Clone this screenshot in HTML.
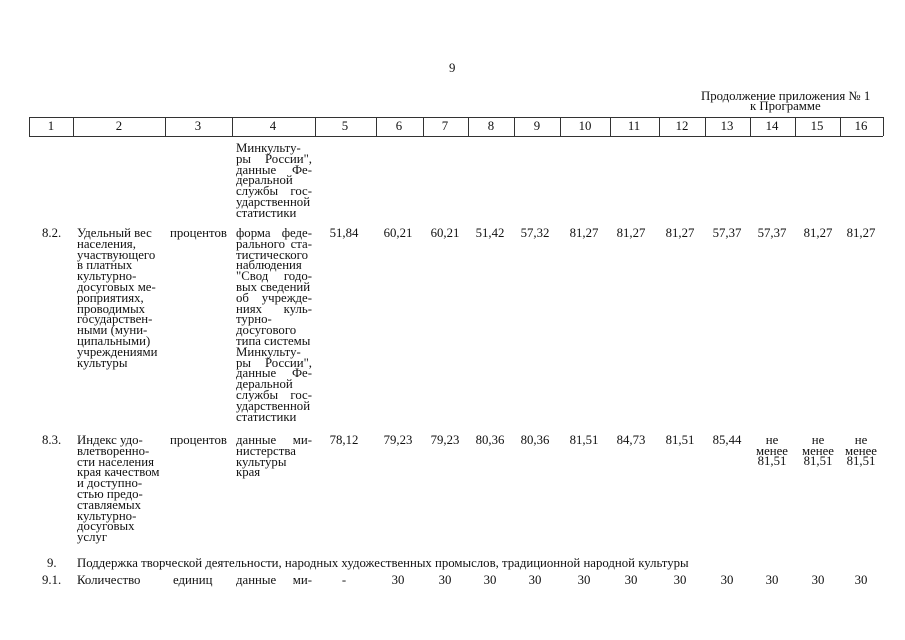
<!DOCTYPE html>
<html><head><meta charset="utf-8"><style>
body{margin:0;background:#fff;}
#p{position:relative;width:905px;height:640px;overflow:hidden;font-family:"Liberation Serif","DejaVu Serif",serif;font-size:12.8px;color:#111;}
.a{position:absolute;white-space:nowrap;line-height:11px;}
.b{position:absolute;line-height:10.8px;}
.b div{white-space:nowrap;}
.j{text-align:justify;text-align-last:justify;}
.c{position:absolute;width:50px;text-align:center;line-height:10.8px;}
.v{position:absolute;top:117px;height:19px;border-left:1px solid #333;}
.h{position:absolute;top:121px;width:50px;text-align:center;line-height:11px;}
</style></head><body><div id="p">
<div class="a" style="left:449px;top:63px;">9</div>
<div class="a" style="left:701px;top:91px;">Продолжение приложения № 1</div>
<div class="a" style="left:750px;top:101px;">к Программе</div>
<div style="position:absolute;left:29px;top:117px;width:854px;height:18px;border-top:1px solid #333;border-bottom:1px solid #333;"></div>
<div class="v" style="left:29px"></div><div class="v" style="left:73px"></div><div class="v" style="left:165px"></div><div class="v" style="left:232px"></div><div class="v" style="left:315px"></div><div class="v" style="left:376px"></div><div class="v" style="left:423px"></div><div class="v" style="left:468px"></div><div class="v" style="left:514px"></div><div class="v" style="left:560px"></div><div class="v" style="left:610px"></div><div class="v" style="left:659px"></div><div class="v" style="left:705px"></div><div class="v" style="left:750px"></div><div class="v" style="left:795px"></div><div class="v" style="left:840px"></div><div class="v" style="left:883px"></div>
<div class="h" style="left:26px">1</div><div class="h" style="left:94px">2</div><div class="h" style="left:173px">3</div><div class="h" style="left:248px">4</div><div class="h" style="left:320px">5</div><div class="h" style="left:374px">6</div><div class="h" style="left:420px">7</div><div class="h" style="left:466px">8</div><div class="h" style="left:512px">9</div><div class="h" style="left:560px">10</div><div class="h" style="left:609px">11</div><div class="h" style="left:657px">12</div><div class="h" style="left:702px">13</div><div class="h" style="left:747px">14</div><div class="h" style="left:792px">15</div><div class="h" style="left:836px">16</div>

<div class="b" style="left:236px;top:143px;width:76px;">
<div>Минкульту-</div><div class="j">ры России",</div><div class="j">данные Фе-</div><div>деральной</div><div class="j">службы гос-</div><div>ударственной</div><div>статистики</div></div>

<div class="a" style="left:42px;top:228px;">8.2.</div>
<div class="b" style="left:77px;top:228px;">
<div>Удельный вес</div><div>населения,</div><div>участвующего</div><div>в платных</div><div>культурно-</div><div>досуговых ме-</div><div>роприятиях,</div><div>проводимых</div><div>государствен-</div><div>ными (муни-</div><div>ципальными)</div><div>учреждениями</div><div>культуры</div></div>
<div class="a" style="left:170px;top:228px;">процентов</div>
<div class="b" style="left:236px;top:228px;width:76px;">
<div class="j">форма феде-</div><div class="j">рального ста-</div><div>тистического</div><div>наблюдения</div><div class="j">"Свод годо-</div><div>вых сведений</div><div class="j">об учрежде-</div><div class="j">ниях куль-</div><div>турно-</div><div>досугового</div><div>типа системы</div><div>Минкульту-</div><div class="j">ры России",</div><div class="j">данные Фе-</div><div>деральной</div><div class="j">службы гос-</div><div>ударственной</div><div>статистики</div></div>
<div class="c" style="left:319px;top:228px">51,84</div><div class="c" style="left:373px;top:228px">60,21</div><div class="c" style="left:420px;top:228px">60,21</div><div class="c" style="left:465px;top:228px">51,42</div><div class="c" style="left:510px;top:228px">57,32</div><div class="c" style="left:559px;top:228px">81,27</div><div class="c" style="left:606px;top:228px">81,27</div><div class="c" style="left:655px;top:228px">81,27</div><div class="c" style="left:702px;top:228px">57,37</div><div class="c" style="left:747px;top:228px">57,37</div><div class="c" style="left:793px;top:228px">81,27</div><div class="c" style="left:836px;top:228px">81,27</div>

<div class="a" style="left:42px;top:435px;">8.3.</div>
<div class="b" style="left:77px;top:435px;">
<div>Индекс удо-</div><div>влетворенно-</div><div>сти населения</div><div>края качеством</div><div>и доступно-</div><div>стью предо-</div><div>ставляемых</div><div>культурно-</div><div>досуговых</div><div>услуг</div></div>
<div class="a" style="left:170px;top:435px;">процентов</div>
<div class="b" style="left:236px;top:435px;width:76px;">
<div class="j">данные ми-</div><div>нистерства</div><div>культуры</div><div>края</div></div>
<div class="c" style="left:319px;top:435px">78,12</div><div class="c" style="left:373px;top:435px">79,23</div><div class="c" style="left:420px;top:435px">79,23</div><div class="c" style="left:465px;top:435px">80,36</div><div class="c" style="left:510px;top:435px">80,36</div><div class="c" style="left:559px;top:435px">81,51</div><div class="c" style="left:606px;top:435px">84,73</div><div class="c" style="left:655px;top:435px">81,51</div><div class="c" style="left:702px;top:435px">85,44</div>
<div class="c" style="left:747px;top:435px;line-height:10.5px">не<br>менее<br>81,51</div><div class="c" style="left:793px;top:435px;line-height:10.5px">не<br>менее<br>81,51</div><div class="c" style="left:836px;top:435px;line-height:10.5px">не<br>менее<br>81,51</div>

<div class="a" style="left:47px;top:558px;">9.</div>
<div class="a" style="left:77px;top:558px;">Поддержка творческой деятельности, народных художественных промыслов, традиционной народной культуры</div>
<div class="a" style="left:42px;top:575px;">9.1.</div>
<div class="a" style="left:77px;top:575px;">Количество</div>
<div class="a" style="left:173px;top:575px;">единиц</div>
<div class="b" style="left:236px;top:575px;width:76px;"><div class="j">данные ми-</div></div>
<div class="c" style="left:319px;top:575px">-</div><div class="c" style="left:373px;top:575px">30</div><div class="c" style="left:420px;top:575px">30</div><div class="c" style="left:465px;top:575px">30</div><div class="c" style="left:510px;top:575px">30</div><div class="c" style="left:559px;top:575px">30</div><div class="c" style="left:606px;top:575px">30</div><div class="c" style="left:655px;top:575px">30</div><div class="c" style="left:702px;top:575px">30</div><div class="c" style="left:747px;top:575px">30</div><div class="c" style="left:793px;top:575px">30</div><div class="c" style="left:836px;top:575px">30</div>
</div></body></html>
